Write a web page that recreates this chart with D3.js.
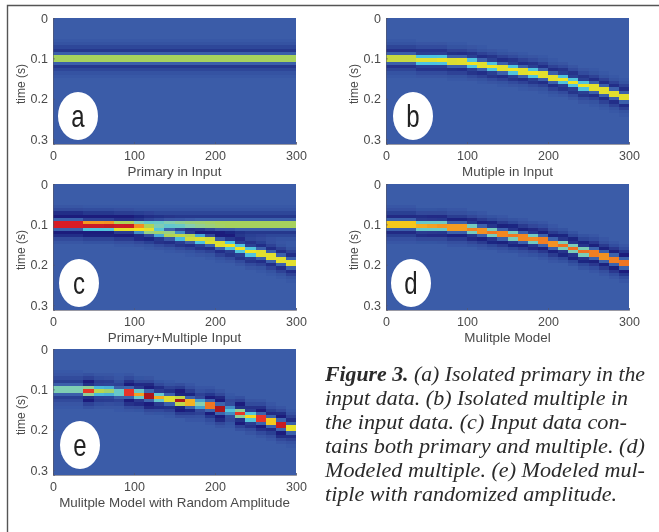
<!DOCTYPE html>
<html lang="en">
<head>
<meta charset="UTF-8" />
<title>Figure 3</title>
<style>
  html, body { margin: 0; padding: 0; background: #fff; }
  svg { display: block; }
  .axis text { font-family: "Liberation Sans", Arial, sans-serif; font-size: 12.5px; fill: #4a4a4a; }
  .axis path, .axis line { stroke: #556; stroke-width: 0.6; }
  .label { font-family: "Liberation Sans", Arial, sans-serif; font-size: 12px; fill: #4a4a4a; }
  .title { font-size: 13.4px; }
  .letter { font-family: "Liberation Sans", sans-serif; font-size: 32px; fill: #222; }
  .caption { font-family: "Liberation Serif", serif; font-style: italic; font-size: 20px; fill: #2a2a2a; }
</style>
</head>
<body>
<div id="wrapper"></div>
<script src="https://d3js.org/d3.v7.min.js"></script>
<script>
// left edge of each trace (offset units)
const traces = [0, 12.5, 25, 37.5, 50, 62.5, 75, 87.5, 100, 112.5, 125, 137.5, 150, 162.5, 175, 187.5, 200, 212.5, 225, 237.5, 250, 262.5, 275, 287.5];
// arrival time of the multiple on each trace (s)
const multipleTime = [0.1, 0.1, 0.1, 0.104, 0.104, 0.104, 0.108, 0.108, 0.112, 0.116, 0.12, 0.124, 0.128, 0.132, 0.136, 0.14, 0.148, 0.152, 0.16, 0.168, 0.172, 0.18, 0.188, 0.196];
const primaryTime = [0.1, 0.1, 0.1, 0.1, 0.1, 0.1, 0.1, 0.1, 0.1, 0.1, 0.1, 0.1, 0.1, 0.1, 0.1, 0.1, 0.1, 0.1, 0.1, 0.1, 0.1, 0.1, 0.1, 0.1];
// wavelet amplitude, by distance from arrival in 4 ms steps
const wavelet = [1, 0.96, 0.45, 0.02, -0.18, -0.28, -0.25, -0.16, -0.1, -0.06, -0.04, -0.02];
// trace amplitudes per panel
const primaryAmp = [0.54, 0.54, 0.54, 0.54, 0.54, 0.54, 0.54, 0.54, 0.54, 0.54, 0.54, 0.54, 0.54, 0.54, 0.54, 0.54, 0.54, 0.54, 0.54, 0.54, 0.54, 0.54, 0.54, 0.54];
const multipleAmp = [0.6, 0.6, 0.6, 0.62, 0.62, 0.64, 0.64, 0.65, 0.65, 0.65, 0.65, 0.65, 0.65, 0.65, 0.65, 0.65, 0.65, 0.65, 0.65, 0.65, 0.65, 0.65, 0.65, 0.65];
const modelAmp = [0.74, 0.74, 0.74, 0.76, 0.78, 0.8, 0.82, 0.82, 0.84, 0.84, 0.86, 0.86, 0.86, 0.86, 0.82, 0.88, 0.84, 0.88, 0.88, 0.88, 0.88, 0.84, 0.88, 0.9];
const randomAmp = [0.42, 0.42, 0.42, 1.0, 0.55, 0.5, 0.36, 1.05, 0.78, 1.3, 0.76, 0.64, 1.25, 0.78, 0.42, 0.9, 1.3, 0.3, 1.0, 0.68, 1.05, 0.74, 1.2, 0.66];

const xTicks = [0, 100, 200, 300];
const yTicks = [0, 0.1, 0.2, 0.3];
const panelTitles = ["Primary in Input", "Mutiple in Input", "Primary+Multiple Input", "Mulitple Model", "Mulitple Model with Random Amplitude"];
const panelLetters = ["a", "b", "c", "d", "e"];
const captionLines = ["(a) Isolated primary in the", "input data. (b) Isolated multiple in", "the input data. (c) Input data con-", "tains both primary and multiple. (d)", "Modeled multiple. (e) Modeled mul-", "tiple with randomized amplitude."];

const width = 659, height = 532;
const plotW = 243, plotH = 126;
const dt = 0.008, step = 0.004;

const x = d3.scaleLinear().domain([0, 300]).range([0, plotW]);
const y = d3.scaleLinear().domain([0, 0.312]).range([0, plotH]);
const color = d3.scaleLinear()
  .domain([-0.25, 0, 0.28, 0.42, 0.52, 0.66, 0.82, 1.05, 1.35])
  .range(["#1b1f7c", "#3a5ba8", "#4cc3e2", "#86cfae", "#a8d25c", "#f6e41e", "#f28a22", "#e4212a", "#8e1018"])
  .clamp(true);

const svg = d3.select("#wrapper").append("svg").attr("width", width).attr("height", height);

const defs = svg.append("defs");
defs.append("filter").attr("id", "soft").attr("x", "-2%").attr("y", "-2%").attr("width", "104%").attr("height", "104%")
  .append("feGaussianBlur").attr("stdDeviation", 0.55);
defs.append("filter").attr("id", "softText")
  .append("feGaussianBlur").attr("stdDeviation", 0.3);

// page frame
svg.append("path")
  .attr("d", "M7.5," + height + "V5.5H" + width)
  .attr("fill", "none").attr("stroke", "#555").attr("stroke-width", 1.4);

// value of one trace at time t from a list of [arrival, amplitude] layers
function sample(i, t, layers) {
  return d3.sum(layers, function (l) {
    const k = Math.abs(Math.round((t - l[0][i]) / step));
    return k < wavelet.length ? l[1][i] * wavelet[k] : 0;
  });
}

const primary = [primaryTime, primaryAmp];
const multiple = [multipleTime, multipleAmp];

const panels = [
  { left: 53, top: 18, layers: [primary], ex: 78, ey: 116 },
  { left: 386, top: 18, layers: [multiple], ex: 413, ey: 116 },
  { left: 53, top: 184, layers: [primary, multiple], ex: 79, ey: 283 },
  { left: 386, top: 184, layers: [[multipleTime, modelAmp]], ex: 411, ey: 283 },
  { left: 53, top: 349, layers: [[multipleTime, randomAmp]], ex: 80, ey: 445 }
];

// cell centres, so that 0.1 s falls on a cell boundary
const times = d3.range(0, 0.32, dt);

panels.forEach(function (p, n) {
  const g = svg.append("g").attr("transform", "translate(" + p.left + "," + p.top + ")");

  const cells = [];
  traces.forEach(function (edge, i) {
    times.forEach(function (t) {
      cells.push({ edge: edge, t: t, v: sample(i, t, p.layers) });
    });
  });

  const clipId = "clip" + n;
  defs.append("clipPath").attr("id", clipId).append("rect").attr("width", plotW).attr("height", plotH);

  const image = g.append("g").attr("clip-path", "url(#" + clipId + ")")
    .append("g").attr("filter", "url(#soft)");

  image.append("rect").attr("x", -4).attr("y", -4)
    .attr("width", plotW + 8).attr("height", plotH + 8)
    .attr("fill", color(0));

  // overlap by a pixel so the cell edges do not show as seams
  image.selectAll("rect.cell").data(cells).join("rect")
    .attr("class", "cell")
    .attr("x", function (d) { return x(d.edge); })
    .attr("y", function (d) { return y(d.t - dt / 2); })
    .attr("width", x(12.5) - x(0))
    .attr("height", y(dt) - y(0) + 0.6)
    .attr("shape-rendering", "crispEdges")
    .attr("fill", function (d) { return color(d.v); });

  const text = svg.append("g").attr("filter", "url(#softText)");
  const axes = text.append("g").attr("transform", "translate(" + p.left + "," + p.top + ")");

  axes.append("g").attr("class", "axis")
    .attr("transform", "translate(0," + plotH + ")")
    .call(d3.axisBottom(x).tickValues(xTicks).tickSize(-2).tickPadding(7));
  axes.append("g").attr("class", "axis")
    .call(d3.axisLeft(y).tickValues(yTicks).tickSize(-2).tickPadding(5).tickFormat(d3.format("~g")));

  axes.append("text").attr("class", "label title")
    .attr("x", plotW / 2).attr("y", plotH + 32).attr("text-anchor", "middle")
    .text(panelTitles[n]);
  axes.append("text").attr("class", "label")
    .attr("transform", "translate(-28," + (plotH / 2 + 3) + ") rotate(-90)")
    .attr("text-anchor", "middle")
    .text("time (s)");

  svg.append("ellipse")
    .attr("cx", p.ex).attr("cy", p.ey).attr("rx", 20).attr("ry", 24)
    .attr("fill", "#fff");
  svg.append("text").attr("class", "letter")
    .attr("transform", "translate(" + p.ex + "," + (p.ey + 11) + ") scale(0.75,1)")
    .attr("text-anchor", "middle")
    .text(panelLetters[n]);
});

// caption
const captionWidths = [320, 303, 302, 320, 320, 292];
const caption = svg.append("g").attr("filter", "url(#softText)");
captionLines.forEach(function (line, i) {
  const t = caption.append("text").attr("class", "caption")
    .attr("x", 325).attr("y", 381 + i * 24)
    .attr("textLength", captionWidths[i]).attr("lengthAdjust", "spacingAndGlyphs");
  if (i === 0) t.append("tspan").attr("font-weight", "bold").text("Figure 3. ");
  t.append("tspan").text(line);
});
</script>
</body>
</html>
